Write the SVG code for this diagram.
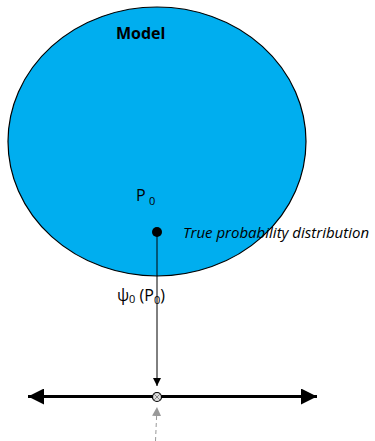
<svg xmlns="http://www.w3.org/2000/svg" width="375" height="441" viewBox="0 0 375 441">
<style>
text{font-family:"Open Sans","Liberation Sans",sans-serif;fill:#000}
.lbl{font-size:16px}
.sub{font-size:11px}
</style>
<defs>
<marker id="ah" viewBox="0 0 10 10" refX="10" refY="5" markerWidth="8" markerHeight="8" markerUnits="userSpaceOnUse" orient="auto"><path d="M0,0 L10,5 L0,10 z" fill="#000"/></marker>
<marker id="ahg" viewBox="0 0 10 10" refX="10" refY="5" markerWidth="9" markerHeight="9" markerUnits="userSpaceOnUse" orient="auto"><path d="M0,0 L10,5 L0,10 z" fill="#999"/></marker>
<marker id="big" viewBox="0 0 16 16" refX="16" refY="8" markerWidth="16" markerHeight="16" markerUnits="userSpaceOnUse" orient="auto"><path d="M0,0 L16,8 L0,16 z" fill="#000"/></marker>
</defs>
<g id="model">
<ellipse cx="157" cy="141.5" rx="149" ry="134.5" fill="#00AEEF" stroke="#000" stroke-width="1.2"/>
<text x="116" y="39" style="font-size:16px;font-weight:bold">Model</text>
</g>
<g id="p0">
<text x="136" y="201" class="lbl">P</text><text x="149" y="205" class="sub">0</text>
<circle cx="157" cy="232" r="5" fill="#000"/>
<text x="183" y="238" style="font-size:15px;font-style:italic">True probability distribution</text>
</g>
<g id="psi">
<text x="117" y="301" class="lbl">ψ<tspan class="sub" dy="2">0</tspan><tspan dy="-2"> (P</tspan><tspan class="sub" dy="3">0</tspan><tspan dy="-3">)</tspan></text>
</g>
<g id="connectors">
<line x1="157" y1="232" x2="157" y2="386" stroke="#000" stroke-width="1" marker-end="url(#ah)"/>
<line x1="157" y1="396.5" x2="28" y2="396.5" stroke="#000" stroke-width="3" marker-end="url(#big)"/>
<line x1="157" y1="396.5" x2="317" y2="396.5" stroke="#000" stroke-width="3" marker-end="url(#big)"/>
<line x1="155.5" y1="441" x2="157" y2="407" stroke="#999" stroke-width="1" stroke-dasharray="4,3" marker-end="url(#ahg)"/>
</g>
<g id="point">
<circle cx="157" cy="397" r="4.5" fill="#ddd" stroke="#000" stroke-width="1.2"/>
<path d="M154,394 L160,400 M160,394 L154,400" stroke="#888" stroke-width="1"/>
</g>
</svg>
